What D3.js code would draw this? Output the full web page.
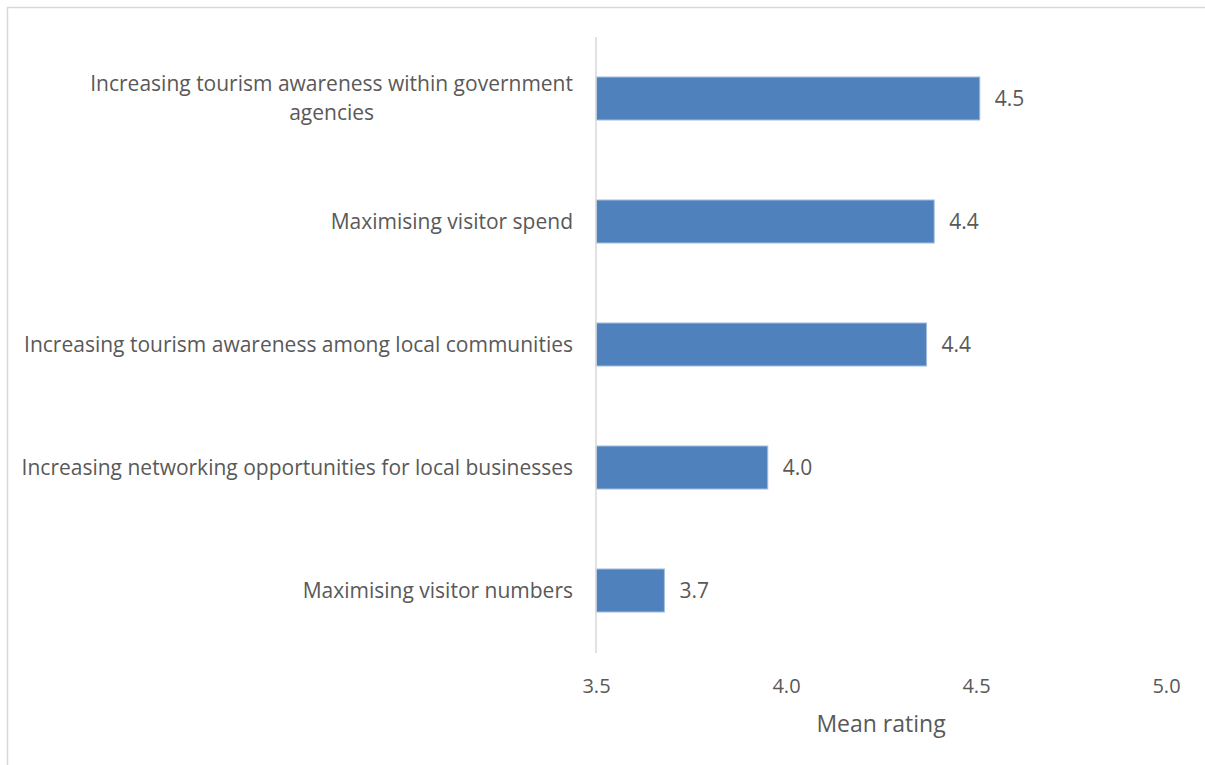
<!DOCTYPE html>
<html>
<head>
<meta charset="utf-8">
<script src="https://cdn.jsdelivr.net/npm/d3@7"></script>
<style>
  html, body { margin: 0; padding: 0; background: #fff; }
  svg { display: block; }
  text { font-family: "Open Sans", "Noto Sans", sans-serif; fill: #595959; }
</style>
</head>
<body>
<svg id="chart" width="1205" height="765"></svg>
<script>
// Objectives, top to bottom, with their mean ratings
const categories = [
  ["Increasing tourism awareness within government", "agencies"],
  ["Maximising visitor spend"],
  ["Increasing tourism awareness among local communities"],
  ["Increasing networking opportunities for local businesses"],
  ["Maximising visitor numbers"]
];
const meanRatings = [4.51, 4.39, 4.37, 3.952, 3.68];
const xTicks = [3.5, 4.0, 4.5, 5.0];
const xTitle = "Mean rating";

const svg = d3.select("#chart");
const W = 1205, H = 765;
const margin = { left: 596, right: 39, top: 37, bottom: 113 };

// Chart area frame
svg.append("rect")
  .attr("x", 7.5).attr("y", 7.5)
  .attr("width", W + 10).attr("height", H + 10)
  .attr("fill", "none").attr("stroke", "#d9d9d9").attr("stroke-width", 1.5);

const x = d3.scaleLinear().domain([3.5, 5.0]).range([margin.left, W - margin.right]);
const y = d3.scaleBand()
  .domain(d3.range(categories.length))
  .range([margin.top, H - margin.bottom])
  .paddingInner(0.65).paddingOuter(0.325);

// Bars
svg.append("g").selectAll("rect")
  .data(meanRatings)
  .join("rect")
  .attr("x", x(3.5))
  .attr("y", (d, i) => y(i))
  .attr("width", d => x(d) - x(3.5))
  .attr("height", y.bandwidth())
  .attr("fill", "#4f81bd")
  .attr("stroke", "#a7bfdf")
  .attr("stroke-width", 1);

// Value labels
const fmt = d3.format(".1f");
svg.append("g").selectAll("text")
  .data(meanRatings)
  .join("text")
  .attr("x", d => x(d) + 15)
  .attr("y", (d, i) => y(i) + y.bandwidth() / 2)
  .attr("dy", "0.35em")
  .attr("font-size", 21)
  .text(d => fmt(d));

// Vertical category axis line
svg.append("line")
  .attr("x1", x(3.5)).attr("x2", x(3.5))
  .attr("y1", margin.top).attr("y2", H - margin.bottom + 1)
  .attr("stroke", "#d9d9d9").attr("stroke-width", 1.5);

// Category labels
const labelRight = x(3.5) - 23;
const catG = svg.append("g");
categories.forEach((lines, i) => {
  const cy = y(i) + y.bandwidth() / 2;
  const lh = 29;
  const t = catG.append("text")
    .attr("font-size", 21)
    .attr("y", cy - (lines.length - 1) * lh / 2)
    .attr("dy", "0.35em");
  if (lines.length === 1) {
    t.attr("x", labelRight).attr("text-anchor", "end").text(lines[0]);
  } else {
    t.attr("text-anchor", "middle");
    lines.forEach((ln, k) => {
      t.append("tspan").attr("x", 0).attr("dy", k === 0 ? "0.35em" : lh).text(ln);
    });
    t.attr("dy", null);
    // centre the block under the widest line, right-aligned to the axis
    const w = t.node().getBBox().width;
    t.selectAll("tspan").attr("x", labelRight - w / 2);
  }
});

// Value axis tick labels
const xAxis = d3.axisBottom(x).tickValues(xTicks).tickFormat(fmt).tickSize(0).tickPadding(0);
const gx = svg.append("g")
  .attr("transform", `translate(0, 686)`)
  .call(xAxis);
gx.select(".domain").remove();
gx.selectAll("text")
  .attr("font-size", 20)
  .attr("font-family", "\"Open Sans\", sans-serif")
  .attr("fill", "#595959")
  .attr("dy", "0.35em");

// Axis title
svg.append("text")
  .attr("x", (x(3.5) + x(5.0)) / 2)
  .attr("y", 724)
  .attr("dy", "0.35em")
  .attr("text-anchor", "middle")
  .attr("font-size", 23)
  .text(xTitle);
</script>
</body>
</html>
